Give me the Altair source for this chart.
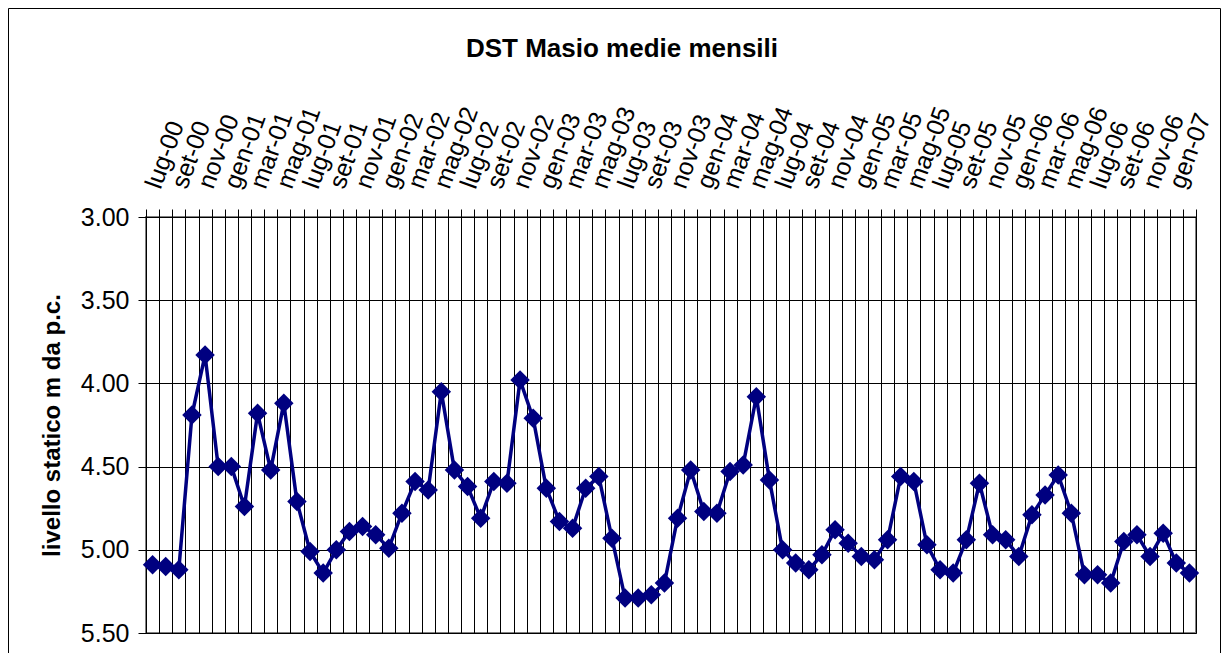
import altair as alt
import pandas as pd

# Italian month abbreviations (category labels), July 2000 .. February 2007
MESI_IT = ["gen", "feb", "mar", "apr", "mag", "giu", "lug", "ago", "set", "ott", "nov", "dic"]
mesi = []
anno, m = 2000, 6
for _ in range(80):
    mesi.append(f"{MESI_IT[m]}-{anno % 100:02d}")
    m += 1
    if m == 12:
        m = 0
        anno += 1

# monthly mean static level (m below ground level)
livelli = [
    5.09, 5.10, 5.12, 4.19, 3.83, 4.50,   # lug-00 .. dic-00
    4.50, 4.74, 4.18, 4.52, 4.12, 4.71,   # gen-01 .. giu-01
    5.01, 5.14, 5.00, 4.89, 4.86, 4.91,   # lug-01 .. dic-01
    4.99, 4.78, 4.59, 4.64, 4.05, 4.52,   # gen-02 .. giu-02
    4.62, 4.81, 4.59, 4.60, 3.98, 4.21,   # lug-02 .. dic-02
    4.63, 4.83, 4.87, 4.63, 4.56, 4.93,   # gen-03 .. giu-03
    5.29, 5.29, 5.27, 5.20, 4.81, 4.52,   # lug-03 .. dic-03
    4.77, 4.78, 4.53, 4.49, 4.08, 4.58,   # gen-04 .. giu-04
    5.00, 5.08, 5.12, 5.03, 4.88, 4.96,   # lug-04 .. dic-04
    5.04, 5.06, 4.94, 4.56, 4.59, 4.97,   # gen-05 .. giu-05
    5.12, 5.14, 4.94, 4.60, 4.91, 4.94,   # lug-05 .. dic-05
    5.04, 4.79, 4.67, 4.55, 4.78, 5.15,   # gen-06 .. giu-06
    5.15, 5.20, 4.95, 4.91, 5.04, 4.90,   # lug-06 .. dic-06
    5.08, 5.14,                           # gen-07 .. feb-07
]

y_ticks = [3.0, 3.5, 4.0, 4.5, 5.0, 5.5]

FONT = "Liberation Sans"
NAVY = "#000080"

df = pd.DataFrame({"mese": mesi, "livello": livelli})

# show every second month label (lug, set, nov, gen, mar, mag)
label_expr = "test(/^(lug|set|nov|gen|mar|mag)/, datum.value) ? datum.value : ''"

x_enc = alt.X(
    "mese:N",
    sort=None,
    scale=alt.Scale(type="band", paddingInner=0, paddingOuter=0),
    axis=alt.Axis(
        orient="top",
        title=None,
        tickBand="extent",
        grid=True,
        gridColor="black",
        gridWidth=1,
        domainColor="black",
        domainWidth=1,
        tickColor="black",
        tickSize=8,
        labelAngle=290,
        labelAlign="left",
        labelBaseline="middle",
        labelFont=FONT,
        labelFontSize=25,
        labelColor="black",
        labelPadding=22,
        labelOverlap=False,
        labelExpr=label_expr,
    ),
)

y_enc = alt.Y(
    "livello:Q",
    scale=alt.Scale(domain=[3.0, 5.5], reverse=True, nice=False, zero=False),
    axis=alt.Axis(
        values=y_ticks,
        format=".2f",
        title="livello statico m da p.c.",
        titleFont=FONT,
        titleFontSize=24,
        titleFontWeight="bold",
        titleColor="black",
        titlePadding=16,
        labelFont=FONT,
        labelFontSize=25,
        labelColor="black",
        labelPadding=9,
        tickSize=8,
        tickColor="black",
        domainColor="black",
        grid=True,
        gridColor="black",
        gridWidth=1,
    ),
)

linea = alt.Chart(df).mark_line(color=NAVY, strokeWidth=3.5).encode(x=x_enc, y=y_enc)
punti = alt.Chart(df).mark_point(
    shape="diamond", size=380, filled=True, color=NAVY, opacity=1
).encode(x=x_enc, y=y_enc)

# outer chart-area frame (decoration, pixel placed)
cornice = alt.Chart(pd.DataFrame({"c": [0]})).mark_rect(
    fillOpacity=0, stroke="black", strokeWidth=1
).encode(
    x=alt.value(-137.5), x2=alt.value(1074.5), y=alt.value(-208.5), y2=alt.value(700)
)

chart = alt.layer(linea, punti, cornice).properties(
    width=1050,
    height=416,
    autosize=alt.AutoSizeParams(type="none"),
    padding={"left": 138, "top": 209, "right": 25, "bottom": 20},
    title=alt.TitleParams(
        "DST Masio medie mensili",
        font=FONT,
        fontSize=26,
        fontWeight="bold",
        color="black",
        anchor="middle",
        frame="group",
        dx=-49,
        offset=0,
        dy=54,
    ),
).configure_view(stroke="#808080", strokeWidth=2)

chart.save("out.html", embed_options={"renderer": "svg", "actions": False})
